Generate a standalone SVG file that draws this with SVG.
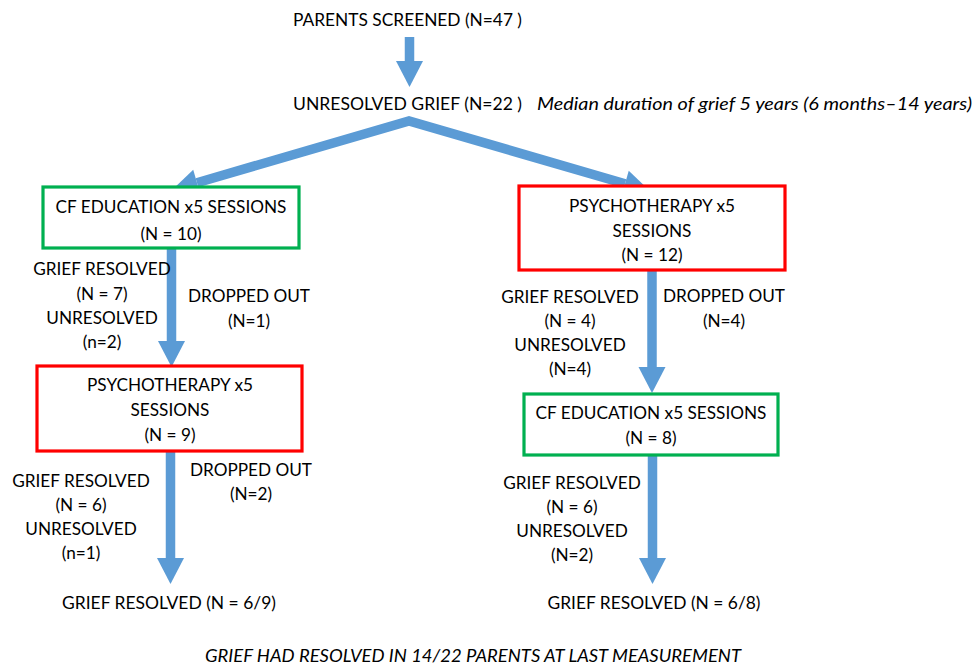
<svg xmlns="http://www.w3.org/2000/svg" width="977" height="666" viewBox="0 0 977 666">
<style>
text{font-family:Lato,"Open Sans","Liberation Sans",sans-serif;font-size:17.2px;fill:#000;text-anchor:middle}
.it{font-style:italic}
.st{text-anchor:start}
.box{fill:#fff;stroke-width:3.2}
.g{stroke:#00B050}
.r{stroke:#FF0000}
.arr{fill:none;stroke:#5B9BD5;stroke-width:9.5;stroke-linejoin:miter}
</style>
<defs>
<marker id="ah" markerUnits="userSpaceOnUse" markerWidth="30" markerHeight="30" viewBox="0 -15 30 30" refX="0" refY="0" orient="auto-start-reverse" overflow="visible">
<path d="M0,-13.5 L26,0 L0,13.5 z" fill="#5B9BD5"/>
</marker>
</defs>
<rect width="977" height="666" fill="#fff"/>
<g id="connectors">
<path class="arr" d="M409.5,37 V61" marker-end="url(#ah)"/>
<path class="arr" d="M197,182.7 L409,121 L625,183.7" marker-start="url(#ah)" marker-end="url(#ah)"/>
<path class="arr" d="M171.5,249 V341" marker-end="url(#ah)"/>
<path class="arr" d="M170.5,451 V558" marker-end="url(#ah)"/>
<path class="arr" d="M652,271 V367" marker-end="url(#ah)"/>
<path class="arr" d="M652.5,455 V558" marker-end="url(#ah)"/>
</g>
<g id="screened"><text class="st" x="293" y="26" textLength="229" lengthAdjust="spacingAndGlyphs">PARENTS SCREENED (N=47 )</text></g>
<g id="unresolved"><text class="st" x="293" y="110" textLength="229" lengthAdjust="spacingAndGlyphs">UNRESOLVED GRIEF (N=22 )</text><text class="st it" x="537" y="110" textLength="435" lengthAdjust="spacingAndGlyphs">Median duration of grief 5 years (6 months–14 years)</text></g>
<g id="cf-left"><rect class="box g" x="43" y="187" width="256" height="61"/><text x="171" y="213">CF EDUCATION x5 SESSIONS</text><text x="171" y="240">(N = 10)</text></g>
<g id="lbl-left1"><text x="102" y="275">GRIEF RESOLVED</text><text x="102" y="300">(N = 7)</text><text x="102" y="324">UNRESOLVED</text><text x="102" y="348">(n=2)</text></g>
<g id="drop-left1"><text x="249" y="302">DROPPED OUT</text><text x="249" y="327">(N=1)</text></g>
<g id="psy-left"><rect class="box r" x="37" y="366" width="265" height="85"/><text x="170" y="391">PSYCHOTHERAPY x5</text><text x="170" y="416">SESSIONS</text><text x="170" y="441">(N = 9)</text></g>
<g id="lbl-left2"><text x="81" y="487">GRIEF RESOLVED</text><text x="81" y="511">(N = 6)</text><text x="81" y="535">UNRESOLVED</text><text x="81" y="559">(n=1)</text></g>
<g id="drop-left2"><text x="251" y="476">DROPPED OUT</text><text x="251" y="500">(N=2)</text></g>
<g id="res-left"><text x="169" y="609" textLength="214" lengthAdjust="spacingAndGlyphs">GRIEF RESOLVED (N = 6/9)</text></g>
<g id="psy-right"><rect class="box r" x="519" y="186" width="266" height="84"/><text x="652" y="212">PSYCHOTHERAPY x5</text><text x="652" y="237">SESSIONS</text><text x="652" y="261">(N = 12)</text></g>
<g id="lbl-right1"><text x="570" y="303">GRIEF RESOLVED</text><text x="570" y="327">(N = 4)</text><text x="570" y="351">UNRESOLVED</text><text x="570" y="375">(N=4)</text></g>
<g id="drop-right1"><text x="724" y="302">DROPPED OUT</text><text x="724" y="327">(N=4)</text></g>
<g id="cf-right"><rect class="box g" x="524" y="394" width="254" height="61"/><text x="651" y="419">CF EDUCATION x5 SESSIONS</text><text x="651" y="444">(N = 8)</text></g>
<g id="lbl-right2"><text x="572" y="489">GRIEF RESOLVED</text><text x="572" y="513">(N = 6)</text><text x="572" y="537">UNRESOLVED</text><text x="572" y="561">(N=2)</text></g>
<g id="res-right"><text x="654" y="609" textLength="213" lengthAdjust="spacingAndGlyphs">GRIEF RESOLVED (N = 6/8)</text></g>
<g id="footer"><text class="it" x="473" y="662" textLength="536" lengthAdjust="spacingAndGlyphs">GRIEF HAD RESOLVED IN 14/22 PARENTS AT LAST MEASUREMENT</text></g>
</svg>
